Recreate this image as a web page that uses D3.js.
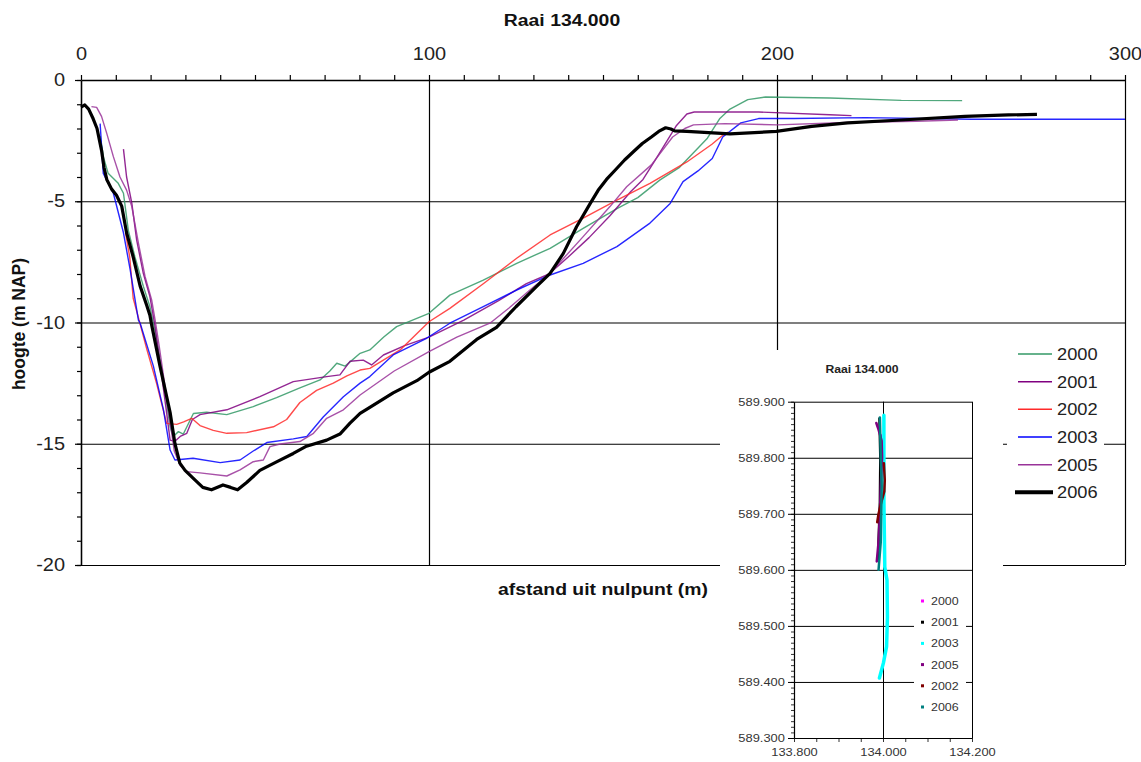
<!DOCTYPE html>
<html>
<head>
<meta charset="utf-8">
<script src="https://cdn.jsdelivr.net/npm/d3@7"></script>
<style>
body { margin: 0; background: #fff; }
text { font-family: "Liberation Sans", Arial, sans-serif; }
</style>
</head>
<body>
<svg id="chart" width="1141" height="762"></svg>
<script>
// Profile data per year: [afstand (m), hoogte (m NAP)]
var years = ["2000", "2001", "2002", "2003", "2005", "2006"];
var colors = ["#339966", "#800080", "#ff2a2a", "#0000ff", "#993399", "#000000"];
var widths = [1.4, 1.4, 1.4, 1.4, 1.4, 3.2];

var p2000 = [[5.5,-2.3],[6.5,-3.2],[7.8,-3.85],[10.7,-4.26],[12.2,-4.67],[13.6,-6.2],[15.5,-7.3],[17.9,-8.5],[19.8,-9.35],[21.5,-10.5],[23.5,-12.2],[25.6,-14.3],[26.5,-14.7],[28,-14.5],[29.4,-14.6],[32.3,-13.75],[36.1,-13.7],[41.9,-13.8],[49.5,-13.47],[56.2,-13.1],[62.9,-12.7],[68.7,-12.37],[71.5,-12.0],[73.5,-11.68],[75.9,-11.8],[80.2,-11.27],[83,-11.13],[87,-10.6],[90.7,-10.17],[96.5,-9.83],[100,-9.62],[106,-8.87],[115.6,-8.25],[125.2,-7.56],[134.8,-6.94],[144.3,-6.12],[154,-5.3],[160,-4.85],[166.4,-4.12],[172,-3.6],[176,-3.0],[180,-2.4],[183.5,-1.6],[186.5,-1.2],[191.6,-0.81],[196.7,-0.7],[215.2,-0.74],[235.7,-0.84],[253.2,-0.85]];
var p2001 = [[12.2,-2.85],[13.1,-4.0],[14.6,-5.08],[16,-6.6],[17.9,-7.97],[19.8,-8.93],[21.3,-10.17],[23,-12],[24.5,-13.6],[25.6,-14.85],[27,-14.9],[28.5,-14.7],[30.4,-14.57],[32,-14],[34.2,-13.8],[41.9,-13.6],[51.4,-13.06],[61,-12.44],[70.6,-12.23],[74.4,-12.16],[77.3,-11.6],[81.1,-11.55],[83.5,-11.75],[86.9,-11.34],[93,-10.95],[100,-10.6],[110,-9.9],[120,-9.1],[128,-8.4],[134.5,-8.0],[140,-7.3],[146,-6.5],[152,-5.6],[158,-4.6],[161.5,-4.1],[165,-3.3],[168,-2.6],[171,-1.9],[174.1,-1.4],[176.2,-1.32],[194.7,-1.32],[215.2,-1.43],[221.4,-1.47]];
var p2002 = [[12.8,-6.3],[14,-7.3],[15,-9.0],[16.5,-9.8],[18.9,-11.1],[21.7,-12.5],[24.6,-14.16],[27.5,-14.2],[29.5,-14.1],[31.8,-13.95],[34.2,-14.25],[38,-14.45],[41.9,-14.57],[47.6,-14.54],[55.3,-14.3],[59.1,-14.0],[62.9,-13.3],[67.7,-12.8],[72.5,-12.5],[76.4,-12.2],[80.2,-11.96],[83,-11.89],[91.7,-11.13],[100,-9.97],[106,-9.42],[115.6,-8.4],[125.2,-7.35],[134.8,-6.39],[144.3,-5.7],[154,-4.95],[163.5,-4.26],[174.1,-3.38],[181.3,-2.65],[184.4,-2.28],[186,-2.15]];
var p2003 = [[5.5,-1.8],[6.4,-3.85],[9.3,-4.67],[12.2,-6.3],[14.1,-7.8],[16.5,-9.9],[17,-10.03],[20.8,-11.8],[23.7,-13.6],[25.6,-15.26],[27,-15.67],[32.2,-15.6],[40,-15.78],[45.7,-15.67],[49.5,-15.3],[53.4,-14.95],[61,-14.8],[64.9,-14.7],[69.6,-13.9],[75.4,-13.06],[80.2,-12.5],[83,-12.23],[89.7,-11.34],[99.3,-10.65],[106,-10.03],[115.6,-9.35],[125.2,-8.66],[134.8,-8.04],[144.3,-7.56],[154,-6.87],[163.5,-5.9],[169.3,-5.09],[173,-4.19],[177.3,-3.75],[181.4,-3.24],[184.4,-2.35],[189.6,-1.77],[194.7,-1.59],[204.9,-1.59],[225.5,-1.55],[256,-1.62],[300,-1.62]];
var p2005 = [[3,-1.1],[4.5,-1.13],[5.9,-1.5],[7.4,-2.2],[9.3,-3.16],[11.2,-4.0],[13.1,-4.54],[14.6,-5.22],[16.5,-6.73],[18.4,-8.1],[20.3,-9.07],[21.3,-9.9],[22.5,-11],[24,-12.5],[25.5,-14],[26.8,-15.3],[28.5,-15.9],[30.4,-16.15],[34.2,-16.2],[41.9,-16.33],[45.7,-16.08],[49.5,-15.74],[52.4,-15.67],[54.3,-15.12],[57.2,-15.01],[62.9,-14.91],[66.8,-14.57],[70.6,-13.95],[75.4,-13.6],[80.2,-12.99],[90,-12.0],[100,-11.2],[108,-10.6],[117.5,-10.03],[123,-9.4],[129,-8.66],[134.8,-7.97],[139,-7.3],[144.3,-6.46],[152,-5.22],[156.8,-4.4],[163.9,-3.5],[170,-2.35],[173.5,-2.0],[176,-1.85],[185,-1.8],[200,-1.85],[220,-1.75],[240,-1.7],[252,-1.65]];
var p2006 = [[0,-1.12],[1.1,-1.03],[2.2,-1.2],[3.5,-1.6],[4.6,-2.0],[5.9,-2.9],[6.6,-3.6],[7.4,-4.1],[8.8,-4.5],[10.2,-4.75],[11.7,-5.2],[13.1,-6.3],[15,-7.3],[17,-8.5],[18.9,-9.3],[19.8,-9.7],[20.3,-10.1],[22.7,-11.8],[25.6,-13.7],[27,-15],[28.4,-15.8],[29.9,-16.1],[32.8,-16.5],[35,-16.8],[37.5,-16.9],[40.8,-16.7],[43,-16.8],[45,-16.9],[47.6,-16.6],[51.4,-16.1],[56.2,-15.75],[61,-15.4],[64.8,-15.1],[70.6,-14.85],[74.4,-14.6],[77.3,-14.15],[80.2,-13.75],[83,-13.5],[89.7,-12.9],[96.5,-12.4],[100,-12.05],[106,-11.6],[113.7,-10.7],[119.4,-10.2],[125,-9.35],[131,-8.5],[134.8,-7.97],[138.6,-7.15],[142.4,-6.05],[146.3,-5.1],[148.6,-4.55],[151,-4.1],[153.6,-3.7],[156.2,-3.3],[158.8,-2.95],[161.3,-2.62],[163.9,-2.35],[166,-2.12],[168,-1.97],[169.5,-2.02],[170.6,-2.1],[174.1,-2.12],[186.5,-2.22],[199.8,-2.12],[210,-1.91],[220.3,-1.77],[235.7,-1.65],[254,-1.5],[266.5,-1.44],[274.7,-1.42]];
var profiles = [p2000, p2001, p2002, p2003, p2005, p2006];

// Main axes
var xTicks = [0, 100, 200, 300];
var yTicks = [-20, -15, -10, -5, 0];

// Inset: ligging van de raai (x, y in km)
var insetYears = ["2000", "2001", "2003", "2005", "2002", "2006"];
var insetColors = ["#ff00ff", "#000000", "#00ffff", "#800080", "#800000", "#008080"];
var i2000 = [[133.995,589.84],[133.996,589.80],[133.994,589.77]];
var i2001 = [[133.992,589.87],[133.994,589.80],[133.993,589.72],[133.99,589.65],[133.99,589.62]];
var i2003 = [[134.002,589.876],[134.002,589.725],[134.004,589.605],[134.009,589.582],[134.010,589.516],[134.008,589.463],[134.001,589.434],[133.992,589.407]];
var i2005 = [[133.985,589.862],[133.99,589.85],[133.997,589.83],[133.998,589.80],[133.995,589.75],[133.993,589.70],[133.99,589.65],[133.986,589.615]];
var i2002 = [[134.002,589.79],[134.004,589.76],[134.003,589.74],[133.996,589.72],[133.99,589.70],[133.987,589.685]];
var i2006 = [[133.993,589.872],[133.995,589.80],[133.997,589.75],[133.996,589.70],[133.995,589.65],[133.99,589.60]];
var insetSeries = [i2000, i2001, i2003, i2005, i2002, i2006];
var insetXTicks = [133.8, 134.0, 134.2];
var insetYTicks = [589.3, 589.4, 589.5, 589.6, 589.7, 589.8, 589.9];

var SX = 1.14; // the picture is slightly stretched horizontally

var svg = d3.select("#chart");

function label(g, px, py, str, size, anchor, weight, fill) {
    return g.append("text")
        .attr("transform", "translate(" + px + "," + py + ") scale(" + SX + ",1)")
        .attr("text-anchor", anchor)
        .style("font-size", size + "px")
        .style("font-weight", weight || "normal")
        .style("fill", fill || "#111")
        .text(str);
}

function styleAxis(g, size, fill) {
    g.select(".domain").attr("stroke", "#000").attr("stroke-width", 1.3);
    g.selectAll(".tick line").attr("stroke", "#000").attr("stroke-width", 1.2);
    g.selectAll(".tick text")
        .attr("transform", "scale(" + SX + ",1)")
        .style("font-family", "'Liberation Sans', Arial, sans-serif")
        .style("font-size", size + "px")
        .style("fill", fill || "#222");
}

// plain hyphen minus, as in the original
var plain = function (d) { return String(d); };

// ---------- main chart ----------
var plotL = 81, plotR = 1125, plotT = 80, plotB = 565;
var x = d3.scaleLinear().domain([0, 300]).range([plotL, plotR]);
var y = d3.scaleLinear().domain([-20, 0]).range([plotB, plotT]);

// gridlines
svg.append("g").attr("transform", "translate(" + plotL + ",0)")
    .call(d3.axisLeft(y).tickValues([-20, -15, -10, -5]).tickSize(-(plotR - plotL)).tickFormat(""))
    .call(function (g) { g.select(".domain").remove(); styleAxis(g, 0); });
svg.append("g").attr("transform", "translate(0," + plotT + ")")
    .call(d3.axisBottom(x).tickValues([100, 200, 300]).tickSize(plotB - plotT).tickFormat(""))
    .call(function (g) { g.select(".domain").remove(); styleAxis(g, 0); });

// minor ticks
svg.append("g").attr("transform", "translate(0," + plotT + ")")
    .call(d3.axisTop(x).tickValues(d3.range(0, 301, 10)).tickSize(5).tickSizeOuter(0).tickFormat(""))
    .call(function (g) { styleAxis(g, 0); });
svg.append("g").attr("transform", "translate(" + plotL + ",0)")
    .call(d3.axisLeft(y).tickValues(d3.range(-20, 0.5, 1)).tickSize(4).tickSizeOuter(0).tickFormat(""))
    .call(function (g) { styleAxis(g, 0); });

// labelled axes
svg.append("g").attr("transform", "translate(0," + plotT + ")")
    .call(d3.axisTop(x).tickValues(xTicks).tickSize(0).tickPadding(20).tickFormat(plain))
    .call(function (g) { g.select(".domain").remove(); styleAxis(g, 17.5); });
svg.append("g").attr("transform", "translate(" + plotL + ",0)")
    .call(d3.axisLeft(y).tickValues(yTicks).tickSize(6).tickSizeOuter(0).tickPadding(8).tickFormat(plain))
    .call(function (g) { styleAxis(g, 17.5); });

// titles
label(svg, 562, 26, "Raai 134.000", 17, "middle", "bold", "#111");
label(svg, 603, 595, "afstand uit nulpunt (m)", 17, "middle", "bold", "#111");
svg.append("text")
    .attr("transform", "translate(25,324) rotate(-90)")
    .attr("text-anchor", "middle")
    .style("font-size", "17.5px").style("font-weight", "bold").style("fill", "#111")
    .text("hoogte (m NAP)");

// profiles
var line = d3.line().x(function (d) { return x(d[0]); }).y(function (d) { return y(d[1]); });
profiles.forEach(function (p, i) {
    svg.append("path")
        .datum(p)
        .attr("d", line)
        .attr("fill", "none")
        .attr("stroke", colors[i])
        .attr("stroke-width", widths[i])
        .attr("stroke-linejoin", "round")
        .attr("opacity", i === 5 ? 1 : 0.85);
});

// legend
var legend = svg.append("g").attr("transform", "translate(1007,340)");
legend.append("rect").attr("width", 97).attr("height", 170).attr("fill", "#fff");
years.forEach(function (yr, i) {
    var ly = 14 + i * 27.67;
    legend.append("line")
        .attr("x1", i === 5 ? 8 : 11).attr("x2", i === 5 ? 46 : 45)
        .attr("y1", ly).attr("y2", ly)
        .attr("stroke", colors[i]).attr("stroke-width", i === 5 ? 4 : 1.5);
    label(legend, 50, ly + 6, yr, 16, "start", "normal", "#222");
});

// ---------- inset ----------
var inset = svg.append("g");
inset.append("rect").attr("x", 720).attr("y", 350).attr("width", 283).attr("height", 412).attr("fill", "#fff");
var xi = d3.scaleLinear().domain([133.8, 134.2]).range([794, 972]);
var yi = d3.scaleLinear().domain([589.3, 589.9]).range([738, 401.7]);

inset.append("g").attr("transform", "translate(794,0)")
    .call(d3.axisLeft(yi).tickValues(insetYTicks.slice(1)).tickSize(-(972 - 794)).tickFormat(""))
    .call(function (g) { g.select(".domain").remove(); styleAxis(g, 0); g.selectAll(".tick line").attr("stroke-width", 1); });
inset.append("g").attr("transform", "translate(0,401.7)")
    .call(d3.axisBottom(xi).tickValues([134.0, 134.2]).tickSize(738 - 401.7).tickFormat(""))
    .call(function (g) { g.select(".domain").remove(); styleAxis(g, 0); g.selectAll(".tick line").attr("stroke-width", 1); });

inset.append("g").attr("transform", "translate(794,0)")
    .call(d3.axisLeft(yi).tickValues(d3.range(0, 61).map(function (k) { return 589.3 + k * 0.01; })).tickSize(3).tickSizeOuter(0).tickFormat(""))
    .call(function (g) { styleAxis(g, 0); g.selectAll(".tick line").attr("stroke-width", 0.8); g.select(".domain").attr("stroke-width", 1.2); });
inset.append("g").attr("transform", "translate(794,0)")
    .call(d3.axisLeft(yi).tickValues(insetYTicks).tickSize(6).tickSizeOuter(0).tickPadding(2).tickFormat(d3.format(".3f")))
    .call(function (g) { g.select(".domain").remove(); styleAxis(g, 11.3, "#333"); g.selectAll(".tick line").attr("stroke-width", 1); });
inset.append("g").attr("transform", "translate(0,738)")
    .call(d3.axisBottom(xi).tickValues(d3.range(0, 9).map(function (k) { return 133.8 + k * 0.05; })).tickSize(4).tickSizeOuter(0).tickFormat(""))
    .call(function (g) { styleAxis(g, 0); g.selectAll(".tick line").attr("stroke-width", 0.8); g.select(".domain").attr("stroke-width", 1.2); });
inset.append("g").attr("transform", "translate(0,738)")
    .call(d3.axisBottom(xi).tickValues(insetXTicks).tickSize(0).tickPadding(10).tickFormat(d3.format(".3f")))
    .call(function (g) { g.select(".domain").remove(); styleAxis(g, 11.3, "#333"); });

label(inset, 862, 373, "Raai 134.000", 10.7, "middle", "bold", "#222");

var iline = d3.line().x(function (d) { return xi(d[0]); }).y(function (d) { return yi(d[1]); });
insetSeries.forEach(function (s, i) {
    inset.append("path")
        .datum(s)
        .attr("d", iline)
        .attr("fill", "none")
        .attr("stroke", insetColors[i])
        .attr("stroke-width", i === 2 ? 3.5 : 2.5)
        .attr("stroke-linecap", "round")
        .attr("stroke-linejoin", "round");
});

var ilegend = inset.append("g").attr("transform", "translate(914,590)");
ilegend.append("rect").attr("width", 52).attr("height", 128).attr("fill", "#fff");
insetYears.forEach(function (yr, i) {
    var ly = 11 + i * 21.2;
    ilegend.append("rect").attr("x", 7).attr("y", ly - 1.5).attr("width", 3).attr("height", 3).attr("fill", insetColors[i]);
    label(ilegend, 17, ly + 4, yr, 10.9, "start", "normal", "#333");
});
</script>
</body>
</html>
